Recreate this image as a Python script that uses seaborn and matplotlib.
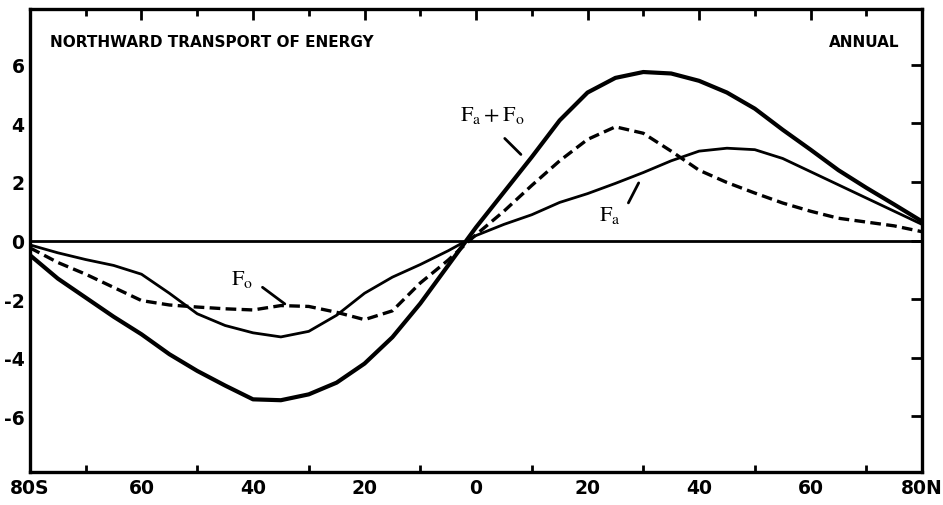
import numpy as np
import pandas as pd
import matplotlib
matplotlib.use("Agg")
import matplotlib.pyplot as plt
import seaborn as sns
from matplotlib.ticker import FixedLocator

# Latitude (negative = south), annual northward energy transport
latitude = list(range(-80, 81, 5))
total_transport = [-0.5, -1.3, -1.95, -2.6, -3.2, -3.88, -4.45, -4.95, -5.42, -5.45,
                   -5.25, -4.85, -4.2, -3.3, -2.15, -0.85, 0.45, 1.65, 2.85, 4.1,
                   5.05, 5.55, 5.75, 5.7, 5.45, 5.05, 4.5, 3.78, 3.1, 2.4,
                   1.8, 1.23, 0.65]
ocean_transport = [-0.25, -0.75, -1.15, -1.6, -2.05, -2.2, -2.27, -2.33, -2.37, -2.22,
                   -2.25, -2.45, -2.7, -2.4, -1.45, -0.67, 0.2, 1.0, 1.88, 2.72,
                   3.45, 3.88, 3.66, 3.05, 2.4, 1.98, 1.62, 1.28, 1.0, 0.76,
                   0.63, 0.5, 0.3]
atmos_transport = [-0.15, -0.42, -0.65, -0.85, -1.15, -1.8, -2.5, -2.9, -3.15, -3.29,
                   -3.1, -2.55, -1.8, -1.25, -0.82, -0.35, 0.17, 0.55, 0.88, 1.3,
                   1.6, 1.95, 2.32, 2.72, 3.05, 3.15, 3.1, 2.8, 2.35, 1.9,
                   1.45, 1.0, 0.55]

x_tick_values = [-80, -60, -40, -20, 0, 20, 40, 60, 80]
x_tick_labels = ["80S", "60", "40", "20", "0", "20", "40", "60", "80N"]
x_minor_values = [-70, -50, -30, -10, 10, 30, 50, 70]
y_tick_values = [-6, -4, -2, 0, 2, 4, 6]
y_tick_labels = ["-6", "-4", "-2", "0", "2", "4", "6"]

sns.set_theme(style="white")
plt.rcParams["font.family"] = ["DejaVu Sans"]
plt.rcParams["mathtext.fontset"] = "stix"

df = pd.DataFrame({
    "lat": latitude,
    "total": total_transport,
    "ocean": ocean_transport,
    "atmos": atmos_transport,
})

fig = plt.figure(figsize=(9.43, 5.06), dpi=100)
ax = fig.add_axes([0.0318, 0.0652, 0.946, 0.915])

ax.axhline(0, color="black", lw=2.0, zorder=1)
sns.lineplot(data=df, x="lat", y="total", color="black", lw=3.0, ax=ax)
sns.lineplot(data=df, x="lat", y="ocean", color="black", lw=2.4,
             linestyle=(0, (3.2, 1.6)), ax=ax)
sns.lineplot(data=df, x="lat", y="atmos", color="black", lw=2.0, ax=ax)

ax.set_xlim(-80, 80)
ax.set_ylim(-7.9, 7.9)
ax.set_xlabel("")
ax.set_ylabel("")

tick_font = dict(family="DejaVu Sans", weight="bold", size=13.5)
ax.xaxis.set_major_locator(FixedLocator(x_tick_values))
ax.xaxis.set_minor_locator(FixedLocator(x_minor_values))
ax.set_xticklabels(x_tick_labels, fontdict=tick_font)
ax.yaxis.set_major_locator(FixedLocator(y_tick_values))
ax.set_yticklabels(y_tick_labels, fontdict=tick_font)
ax.tick_params(axis="both", which="major", direction="in", length=8, width=2,
               color="black", pad=4, top=True, right=True, labelcolor="black")
ax.tick_params(axis="x", which="minor", direction="in", length=5, width=2,
               color="black", top=True, bottom=True)
ax.tick_params(axis="y", labelright=False)

for side in ["left", "right", "top", "bottom"]:
    ax.spines[side].set_visible(True)
    ax.spines[side].set_color("black")
    ax.spines[side].set_linewidth(2.4)

ax.text(0.022, 0.93, "NORTHWARD TRANSPORT OF ENERGY", transform=ax.transAxes,
        ha="left", va="center", fontsize=11, fontweight="bold", color="black")
ax.text(0.975, 0.93, "ANNUAL", transform=ax.transAxes,
        ha="right", va="center", fontsize=11, fontweight="bold", color="black")

# Curve labels with short leader lines
label_kw = dict(fontsize=16, color="black", ha="center", va="center")
ax.text(2.9, 4.3, r"$\mathrm{F_a + F_o}$", **label_kw)
ax.annotate("", xy=(8.4, 2.87), xytext=(4.8, 3.55),
            arrowprops=dict(arrowstyle="-", lw=2.0, color="black"))
ax.text(24.0, 0.9, r"$\mathrm{F_a}$", **label_kw)
ax.annotate("", xy=(29.4, 2.05), xytext=(27.1, 1.2),
            arrowprops=dict(arrowstyle="-", lw=2.0, color="black"))
ax.text(-42.0, -1.3, r"$\mathrm{F_o}$", **label_kw)
ax.annotate("", xy=(-33.9, -2.22), xytext=(-38.7, -1.54),
            arrowprops=dict(arrowstyle="-", lw=2.0, color="black"))

fig.savefig("out.png", dpi=100)
